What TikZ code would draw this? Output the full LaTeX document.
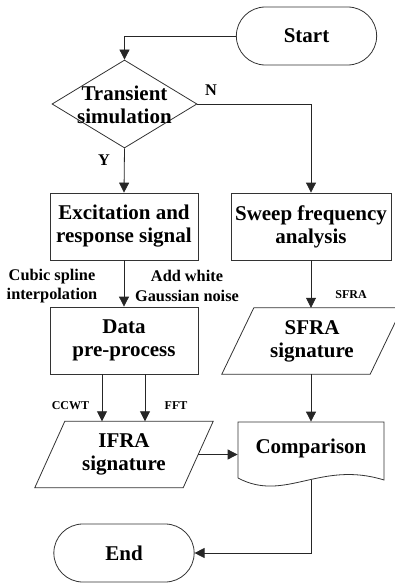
\documentclass[tikz,border=0pt]{standalone}
\usepackage{fontspec}
\setmainfont{Liberation Serif}
\usetikzlibrary{calc, shapes.geometric, shapes.misc, arrows.meta}
\tikzset{ box/.style = { rectangle
                       , draw = black!80
                       , line width   = 0.8pt
                       , inner sep    = 0pt
                       , align        = center
                       , font         = \fontsize{21}{23}\selectfont\bfseries
                       },
          term/.style = { rounded rectangle
                       , draw = black!80
                       , line width   = 0.8pt
                       , minimum width  = 147
                       , minimum height = 58
                       , font         = \fontsize{21}{23}\selectfont\bfseries
                       },
          io/.style = { rectangle
                       , inner sep    = 0pt
                       , align        = center
                       , minimum width  = 148
                       , minimum height = 66
                       , font         = \fontsize{21}{23}\selectfont\bfseries
                       },
          lbl/.style = { align = center
                       , inner sep = 0pt
                       , font = \fontsize{16.3}{19.5}\selectfont\bfseries
                       },
          tiny/.style = { inner sep = 0pt
                       , font = \fontsize{12}{14}\selectfont\bfseries
                       },
          arr/.style = { draw = black!85
                       , line width = 0.8pt
                       , -{Triangle[length=10pt, width=10pt]}
                       }
        }

\begin{document}
\begin{tikzpicture}[x=1pt, y=-1pt]
    \useasboundingbox (0,0) rectangle (395,583);
    \node[term] (start) at (306.5,36) {Start};
    \node[diamond, draw=black!80, line width=0.8pt, inner sep=0pt,
          minimum width=145, minimum height=88] (sim) at (124.5,104) {};
    \node[box, draw=none] (simtxt) at (124.5,105) {Transient\\simulation};
    \node[box, minimum width=148, minimum height=67] (exc) at (124,226.5) {Excitation and\\response signal};
    \node[box, minimum width=160, minimum height=67] (swp) at (311,226.5) {Sweep frequency\\analysis};
    \node[box, minimum width=148, minimum height=67] (pre) at (124,340.5) {Data\\pre-process};
    \node[io] (sfra) at (312,341) {SFRA\\signature};
    \node[io] (ifra) at (124,454.5) {IFRA\\signature};
    \node[box, draw=none, minimum width=146, minimum height=52] (cmp) at (311,448) {Comparison};
    \node[term] (end) at (124,553) {End};
    % parallelograms
    \foreach \n/\s in {sfra/16, ifra/15}
        \draw[black!80, line width=0.8pt] ([xshift=-\s pt]\n.south west) -- ([xshift=\s pt]\n.north west)
            -- ([xshift=\s pt]\n.north east) -- ([xshift=-\s pt]\n.south east) -- cycle;
    % document shape
    \draw[black!80, line width=0.8pt] (238,478) -- (238,422) -- (384,422) -- (384,480)
        .. controls (320,460) and (285,503) .. (238,478);
    % connectors
    \draw[arr] (start.west) -| (sim.north);
    \draw[arr] (sim.east) -| (swp.north);
    \draw[arr] (sim.south) -- (exc.north);
    \draw[arr] (exc.south) -- (pre.north);
    \draw[arr] (swp.south) -- (swp.south |- sfra.north);
    \draw[arr] ([xshift=-22pt]pre.south) -- ([xshift=-22pt]pre.south |- ifra.north);
    \draw[arr] ([xshift=21pt]pre.south) -- ([xshift=21pt]pre.south |- ifra.north);
    \draw[arr] (sfra.south -| swp.south) -- (cmp.north);
    \draw[arr] (ifra.east) -- (ifra.east -| cmp.west);
    \draw[arr] ([yshift=-6pt]cmp.south) |- (end.east);
    % labels
    \node[lbl] (n) at (211,90) {N};
    \node[lbl] (y) at (104,160) {Y};
    \node[lbl] (cubic) at (52,286) {Cubic spline\\interpolation};
    \node[lbl] (noise) at (187,286) {Add white\\Gaussian noise};
    \node[tiny] (sfralbl) at (351,294.5) {SFRA};
    \node[tiny] (ccwt) at (70.5,405.5) {CCWT};
    \node[tiny] (fft) at (176,405.5) {FFT};
\end{tikzpicture}
\end{document}
